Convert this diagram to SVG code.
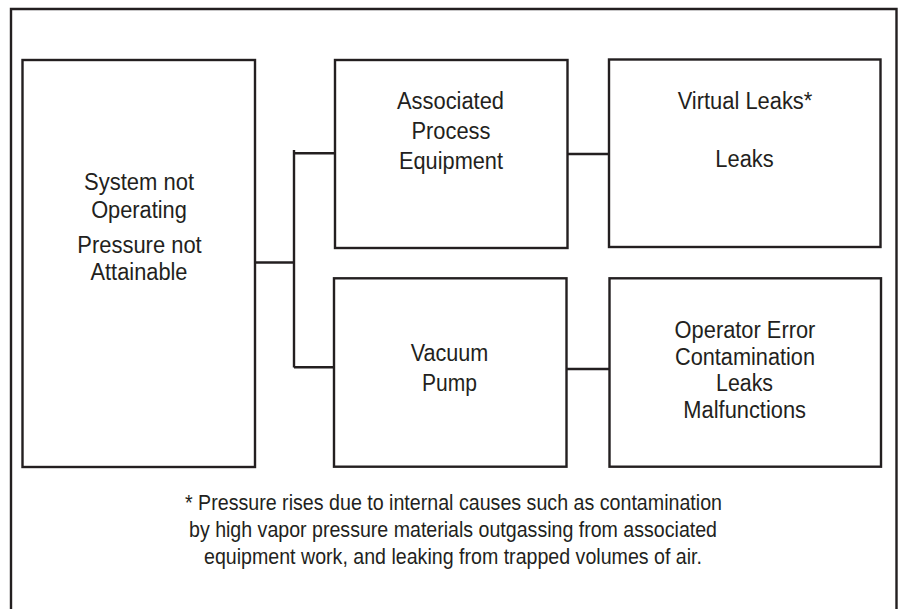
<svg xmlns="http://www.w3.org/2000/svg" width="901" height="609" viewBox="0 0 901 609">
<style>
.box{fill:none;stroke:#231f20;stroke-width:2.4}
.ln{fill:none;stroke:#231f20;stroke-width:2.4}
.t{font-family:"Liberation Sans",Arial,sans-serif;font-size:23px;fill:#231f20;text-anchor:middle}
.f{font-family:"Liberation Sans",Arial,sans-serif;font-size:22px;fill:#231f20;text-anchor:middle}
</style>
<rect width="901" height="609" fill="#fff"/>
<path class="ln" d="M11,612 V9 H896.5 V612"/>
<g id="connectors">
<path class="ln" d="M255,262.5 H294"/>
<path class="ln" d="M294,150 V367.5"/>
<path class="ln" d="M294,153.3 H335"/>
<path class="ln" d="M294,367.3 H334"/>
<path class="ln" d="M567.5,154 H609"/>
<path class="ln" d="M566.5,369 H609.5"/>
</g>
<g id="system">
<rect class="box" x="22.5" y="60" width="232.5" height="407"/>
<text class="t" x="139" y="190" textLength="110" lengthAdjust="spacingAndGlyphs">System not</text>
<text class="t" x="139" y="218" textLength="95.7" lengthAdjust="spacingAndGlyphs">Operating</text>
<text class="t" x="139.5" y="253" textLength="124.4" lengthAdjust="spacingAndGlyphs">Pressure not</text>
<text class="t" x="139" y="280" textLength="97" lengthAdjust="spacingAndGlyphs">Attainable</text>
</g>
<g id="associated">
<rect class="box" x="335" y="60" width="232.5" height="188"/>
<text class="t" x="450.5" y="109" textLength="107" lengthAdjust="spacingAndGlyphs">Associated</text>
<text class="t" x="451" y="139" textLength="79" lengthAdjust="spacingAndGlyphs">Process</text>
<text class="t" x="451" y="169" textLength="104" lengthAdjust="spacingAndGlyphs">Equipment</text>
</g>
<g id="virtual">
<rect class="box" x="609" y="59.5" width="271.5" height="187.5"/>
<text class="t" x="745" y="109" textLength="134.7" lengthAdjust="spacingAndGlyphs">Virtual Leaks*</text>
<text class="t" x="744.5" y="167" textLength="58.3" lengthAdjust="spacingAndGlyphs">Leaks</text>
</g>
<g id="vacuum">
<rect class="box" x="334" y="278.3" width="232.5" height="188.4"/>
<text class="t" x="449.5" y="361" textLength="77.7" lengthAdjust="spacingAndGlyphs">Vacuum</text>
<text class="t" x="449.5" y="391" textLength="55" lengthAdjust="spacingAndGlyphs">Pump</text>
</g>
<g id="causes">
<rect class="box" x="609.5" y="278.3" width="271.5" height="188.4"/>
<text class="t" x="745" y="338" textLength="140.8" lengthAdjust="spacingAndGlyphs">Operator Error</text>
<text class="t" x="745" y="365" textLength="140" lengthAdjust="spacingAndGlyphs">Contamination</text>
<text class="t" x="744.5" y="391" textLength="57" lengthAdjust="spacingAndGlyphs">Leaks</text>
<text class="t" x="744.7" y="418" textLength="122.7" lengthAdjust="spacingAndGlyphs">Malfunctions</text>
</g>
<g id="footnote">
<text class="f" x="453.5" y="510" textLength="537" lengthAdjust="spacingAndGlyphs">* Pressure rises due to internal causes such as contamination</text>
<text class="f" x="453" y="537" textLength="528" lengthAdjust="spacingAndGlyphs">by high vapor pressure materials outgassing from associated</text>
<text class="f" x="453" y="564" textLength="498" lengthAdjust="spacingAndGlyphs">equipment work, and leaking from trapped volumes of air.</text>
</g>
</svg>
